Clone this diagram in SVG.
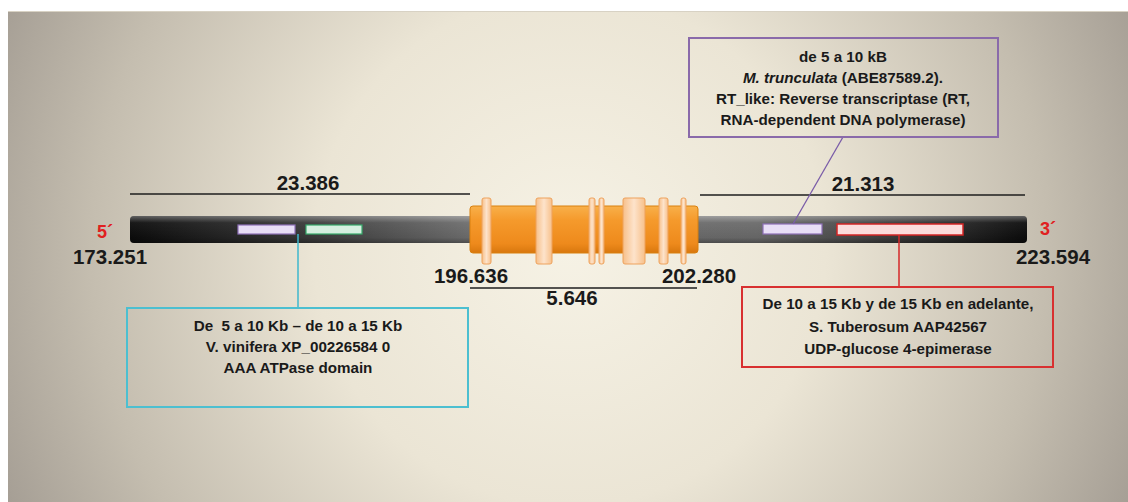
<svg xmlns="http://www.w3.org/2000/svg" width="1128" height="502" viewBox="0 0 1128 502">
<defs>
<radialGradient id="bg" gradientUnits="userSpaceOnUse" cx="570" cy="250" r="640">
<stop offset="0" stop-color="#f6f2e5"/>
<stop offset="0.4" stop-color="#ebe5d5"/>
<stop offset="0.75" stop-color="#c4bdaf"/>
<stop offset="1" stop-color="#a09990"/>
</radialGradient>
<linearGradient id="barH" x1="130" y1="0" x2="1027" y2="0" gradientUnits="userSpaceOnUse">
<stop offset="0" stop-color="#0c0c0c"/>
<stop offset="0.2" stop-color="#3a3a3a"/>
<stop offset="0.38" stop-color="#6e6e6e"/>
<stop offset="0.7" stop-color="#6a6a6a"/>
<stop offset="0.88" stop-color="#333333"/>
<stop offset="1" stop-color="#0c0c0c"/>
</linearGradient>
<linearGradient id="barV" x1="0" y1="0" x2="0" y2="1">
<stop offset="0" stop-color="#ffffff" stop-opacity="0.35"/>
<stop offset="0.25" stop-color="#ffffff" stop-opacity="0.05"/>
<stop offset="0.8" stop-color="#000000" stop-opacity="0.05"/>
<stop offset="1" stop-color="#000000" stop-opacity="0.3"/>
</linearGradient>
<linearGradient id="orange" x1="0" y1="0" x2="0" y2="1">
<stop offset="0" stop-color="#f8b04a"/>
<stop offset="0.3" stop-color="#f59a2c"/>
<stop offset="0.8" stop-color="#ee8a1c"/>
<stop offset="1" stop-color="#d8770e"/>
</linearGradient>
<linearGradient id="exon" x1="0" y1="0" x2="1" y2="0">
<stop offset="0" stop-color="#f7c08a"/>
<stop offset="0.5" stop-color="#fde3cb"/>
<stop offset="1" stop-color="#f7c08a"/>
</linearGradient>
<style>
.t{font-family:"Liberation Sans",Arial,sans-serif;font-weight:bold;fill:#1a1a1a;text-anchor:middle}
.num{font-size:20.5px}
.box{font-size:15.2px}
.dim{stroke:#1e1e1e;stroke-width:1.6;fill:none}
.ex{fill:url(#exon);stroke:#eea25c;stroke-width:1}
.prime{font-family:"Liberation Sans",Arial,sans-serif;font-weight:bold;font-size:18px;fill:#e02020;text-anchor:middle}
</style>
</defs>
<rect x="0" y="0" width="1128" height="502" fill="#ffffff"/>
<rect x="8" y="11" width="1120" height="491" fill="url(#bg)"/>
<line x1="8" y1="11.5" x2="1128" y2="11.5" stroke="#d8d2c4" stroke-width="1"/>

<g id="chromosome">
<rect x="130" y="216" width="897" height="27" rx="4" fill="url(#barH)"/>
<rect x="130" y="216" width="897" height="27" rx="4" fill="url(#barV)"/>
<text class="prime" x="105" y="238">5´</text>
<text class="prime" x="1048" y="235">3´</text>
<text class="t num" x="110" y="264">173.251</text>
<text class="t num" x="1053" y="264">223.594</text>
</g>

<g id="gene">
<rect x="470" y="206" width="228" height="47" rx="3" fill="url(#orange)" stroke="#d9800f" stroke-width="1"/>
<rect class="ex" x="482" y="198" width="9" height="66" rx="2"/>
<rect class="ex" x="536" y="198" width="16" height="66" rx="2"/>
<rect class="ex" x="589" y="198" width="6" height="66" rx="2"/>
<rect class="ex" x="599" y="198" width="5" height="66" rx="2"/>
<rect class="ex" x="623" y="198" width="22" height="66" rx="2"/>
<rect class="ex" x="659" y="198" width="9" height="66" rx="2"/>
<rect class="ex" x="681" y="198" width="5" height="66" rx="2"/>
<text class="t num" x="471" y="283">196.636</text>
<text class="t num" x="699" y="283">202.280</text>
</g>

<g id="dimensions">
<line class="dim" x1="130" y1="194" x2="470" y2="194"/>
<text class="t num" x="308" y="190">23.386</text>
<line class="dim" x1="700" y1="195" x2="1025" y2="195"/>
<text class="t num" x="863" y="191">21.313</text>
<line class="dim" x1="470" y1="288" x2="697" y2="288"/>
<text class="t num" x="572" y="305">5.646</text>
</g>

<g id="markers">
<rect x="238" y="225" width="57" height="9" fill="#e8def6" stroke="#8e70b8" stroke-width="1.2"/>
<rect x="306" y="225" width="56" height="9" fill="#d6efe0" stroke="#36a86a" stroke-width="1.2"/>
<rect x="763" y="224" width="59" height="10" fill="#e8def6" stroke="#8e70b8" stroke-width="1.2"/>
<rect x="837" y="224" width="126" height="11" fill="#fbdcdc" stroke="#d42424" stroke-width="1.5"/>
</g>

<g id="connectors">
<line x1="298" y1="234" x2="298" y2="308" stroke="#3fb7cc" stroke-width="1.5"/>
<line x1="899" y1="235" x2="899" y2="287" stroke="#d42828" stroke-width="1.5"/>
<line x1="843" y1="137" x2="793" y2="224" stroke="#7a5ca8" stroke-width="1.3"/>
</g>

<g id="box-cyan">
<rect x="127" y="308" width="341" height="99" fill="none" stroke="#4cbfd0" stroke-width="2"/>
<text class="t box" x="298" y="331" xml:space="preserve">De  5 a 10 Kb – de 10 a 15 Kb</text>
<text class="t box" x="298" y="352">V. vinifera XP_00226584 0</text>
<text class="t box" x="298" y="373">AAA ATPase domain</text>
</g>

<g id="box-red">
<rect x="742" y="287" width="311" height="80" fill="none" stroke="#d83030" stroke-width="2"/>
<text class="t box" x="898" y="309">De 10 a 15 Kb y de 15 Kb en adelante,</text>
<text class="t box" x="898" y="332">S. Tuberosum AAP42567</text>
<text class="t box" x="898" y="354">UDP-glucose 4-epimerase</text>
</g>

<g id="box-purple">
<rect x="689" y="38" width="309" height="99" fill="none" stroke="#8a6aaa" stroke-width="2"/>
<text class="t box" x="843" y="62">de 5 a 10 kB</text>
<text class="t box" x="843" y="83"><tspan font-style="italic">M. trunculata</tspan> (ABE87589.2).</text>
<text class="t box" x="843" y="104">RT_like: Reverse transcriptase (RT,</text>
<text class="t box" x="843" y="125">RNA-dependent DNA polymerase)</text>
</g>
</svg>
